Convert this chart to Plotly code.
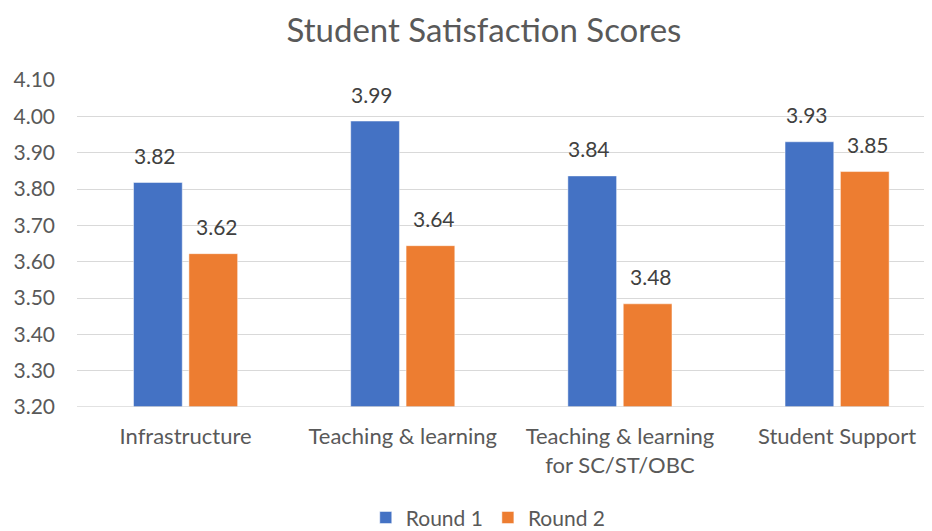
import plotly.graph_objects as go

categories = ["Infrastructure", "Teaching & learning", "Teaching & learning<br>for SC/ST/OBC", "Student Support"]
round1 = [3.818, 3.987, 3.836, 3.930]
round2 = [3.622, 3.644, 3.484, 3.848]
series_names = ["Round 1", "Round 2"]
colors = ["#4472C4", "#ED7D31"]
y_ticks = [3.2, 3.3, 3.4, 3.5, 3.6, 3.7, 3.8, 3.9, 4.0, 4.1]

FONT = "Lato"
TXT = "#595959"

fig = go.Figure()
for name, vals, col in zip(series_names, [round1, round2], colors):
    fig.add_trace(go.Bar(
        x=categories, y=vals, name=name,
        marker=dict(color=col, line=dict(color="rgba(255,255,255,0.6)", width=0.8)),
        hoverinfo="x+y",
    ))

annotations = []
for vals, shift in [(round1, -30.5), (round2, 31)]:
    for c, v in zip(categories, vals):
        annotations.append(dict(
            x=c, y=v, xref="x", yref="y", text=f"{v:.2f}", showarrow=False,
            xshift=shift, yshift=27, yanchor="middle",
            font=dict(family=FONT, size=21, color="#404040"),
        ))

fig.update_layout(
    width=924, height=523,
    paper_bgcolor="white", plot_bgcolor="white",
    margin=dict(l=69, r=0, t=72, b=124, autoexpand=False),
    barmode="group", bargap=0.49, bargroupgap=0.12,
    font=dict(family=FONT, color=TXT),
    title=dict(text="Student Satisfaction Scores", x=0.476, xref="paper", xanchor="center",
               y=0.958, yref="container", yanchor="middle",
               font=dict(family=FONT, size=33, color=TXT)),
    annotations=annotations,
    legend=dict(orientation="h", x=0.481, xanchor="center", y=-0.339, yanchor="middle",
                font=dict(family=FONT, size=21, color=TXT), itemwidth=30,
                traceorder="normal"),
    xaxis=dict(range=[-0.5, 3.437], showgrid=False, showline=False, ticks="",
               automargin=False, ticklabelstandoff=14,
               tickfont=dict(family=FONT, size=22, color=TXT)),
    yaxis=dict(range=[3.2, 4.1], tickvals=y_ticks, tickformat=".2f",
               showgrid=True, gridcolor="#D9D9D9", gridwidth=1.3,
               zeroline=False, showline=False, ticks="", automargin=False,
               ticklabelstandoff=21,
               tickfont=dict(family=FONT, size=21, color=TXT)),
)
fig.add_shape(type="line", xref="paper", yref="y", x0=0, x1=1, y0=3.2, y1=3.2,
              line=dict(color="#D9D9D9", width=1.5))

fig.write_html("out.html")
